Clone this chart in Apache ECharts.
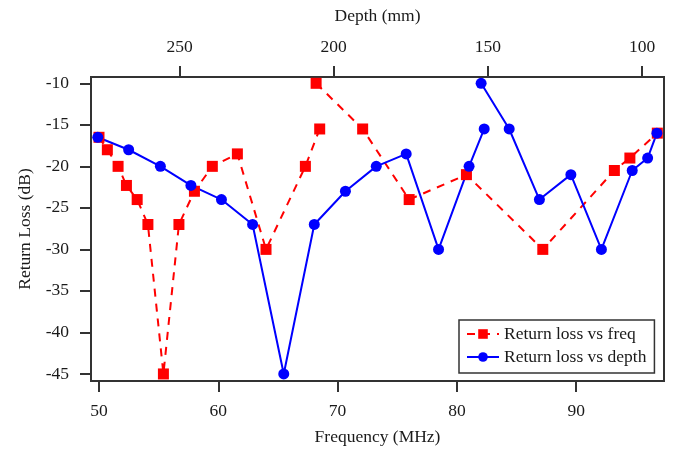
<!DOCTYPE html>
<html>
<head>
<meta charset="utf-8">
<script src="https://cdn.jsdelivr.net/npm/echarts@6/dist/echarts.min.js"></script>
<style>
  html, body { margin: 0; padding: 0; background: #ffffff; }
  #chart { width: 676px; height: 451px; }
</style>
</head>
<body>
<div id="chart"></div>
<script>
// Measured return loss (dB); both sweeps share the same readings.
// A null marks a break in the traces.
var returnLoss = [-16.5, -18, -20, -22.3, -24, -27, -45, -27, -23, -20, -18.5, -30, -20, -15.5, null,
                  -10, -15.5, -24, -21, -30, -20.5, -19, -16];
// Frequency of each reading (MHz), bottom axis
var freqMHz = [50.0, 50.7, 51.6, 52.3, 53.2, 54.1, 55.4, 56.7, 58.0, 59.5, 61.6, 64.0, 67.3, 68.5, null,
               68.2, 72.1, 76.0, 80.8, 87.2, 93.2, 94.5, 96.8];
// Depth of each reading (mm), top axis
var depthMm = [276.5, 266.5, 256.2, 246.3, 236.4, 226.3, 216.2, 206.3, 196.2, 186.2, 176.5, 166.0, 156.1, 151.2, null,
               152.2, 143.1, 133.3, 123.1, 113.2, 103.2, 98.2, 95.2];

// Tick labels
var freqTicks = [50, 60, 70, 80, 90];
var depthTicks = [250, 200, 150, 100];
var lossTicks = [-45, -40, -35, -30, -25, -20, -15, -10];

function pairs(xs, ys) {
  return xs.map(function (x, i) {
    return (x === null || ys[i] === null) ? ['-', '-'] : [x, ys[i]];
  });
}

var FONT = '"Liberation Serif", "DejaVu Serif", serif';
var TXT = '#1a1a1a';
var LINE = '#333333';

var chart = echarts.init(document.getElementById('chart'), null, { renderer: 'canvas' });

chart.setOption({
  backgroundColor: '#ffffff',
  animation: false,
  textStyle: { fontFamily: FONT, color: TXT },
  grid: {
    left: 91, right: 12, top: 77, bottom: 69,
    show: true, borderColor: LINE, borderWidth: 2, backgroundColor: 'transparent'
  },
  legend: {
    orient: 'vertical',
    left: 459, top: 320,
    padding: [5, 8, 7, 7],
    itemGap: 5,
    itemWidth: 32, itemHeight: 12,
    borderColor: LINE, borderWidth: 1.5,
    backgroundColor: '#ffffff',
    textStyle: { fontFamily: FONT, fontSize: 17.5, color: TXT },
    data: ['Return loss vs freq', 'Return loss vs depth']
  },
  xAxis: [
    {
      type: 'value', position: 'bottom',
      min: 49.33, max: 97.36,
      name: 'Frequency (MHz)', nameLocation: 'middle', nameGap: 47,
      nameTextStyle: { fontFamily: FONT, fontSize: 17.5, color: TXT },
      axisLine: { show: false },
      axisTick: { show: true, inside: false, length: 11, customValues: freqTicks,
                  lineStyle: { color: LINE, width: 2 } },
      axisLabel: { customValues: freqTicks, margin: 21, fontFamily: FONT, fontSize: 17.5, color: TXT },
      splitLine: { show: false }
    },
    {
      type: 'value', position: 'top', inverse: true,
      min: 92.9, max: 278.7,
      name: 'Depth (mm)', nameLocation: 'middle', nameGap: 52,
      nameTextStyle: { fontFamily: FONT, fontSize: 17.5, color: TXT },
      axisLine: { show: false },
      axisTick: { show: true, inside: false, length: 11, customValues: depthTicks,
                  lineStyle: { color: LINE, width: 2 } },
      axisLabel: { customValues: depthTicks, margin: 21, fontFamily: FONT, fontSize: 17.5, color: TXT },
      splitLine: { show: false }
    }
  ],
  yAxis: {
    type: 'value',
    min: -45.85, max: -9.24,
    name: 'Return Loss (dB)', nameLocation: 'middle', nameGap: 56,
    nameTextStyle: { fontFamily: FONT, fontSize: 17.5, color: TXT },
    axisLine: { show: false },
    axisTick: { show: true, inside: false, length: 11, customValues: lossTicks,
                lineStyle: { color: LINE, width: 2 } },
    axisLabel: { customValues: lossTicks, margin: 22, fontFamily: FONT, fontSize: 17.5, color: TXT },
    splitLine: { show: false }
  },
  series: [
    {
      name: 'Return loss vs freq',
      type: 'line',
      xAxisIndex: 0,
      data: pairs(freqMHz, returnLoss),
      connectNulls: false,
      symbol: 'rect', symbolSize: 11,
      itemStyle: { color: '#ff0000' },
      lineStyle: { color: '#ff0000', width: 2, type: [8, 7] }
    },
    {
      name: 'Return loss vs depth',
      type: 'line',
      xAxisIndex: 1,
      data: pairs(depthMm, returnLoss),
      connectNulls: false,
      symbol: 'circle', symbolSize: 11,
      itemStyle: { color: '#0000ff' },
      lineStyle: { color: '#0000ff', width: 2, type: 'solid' }
    }
  ]
});
</script>
</body>
</html>
